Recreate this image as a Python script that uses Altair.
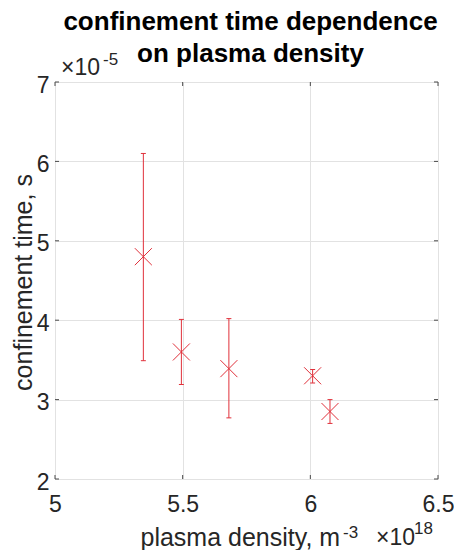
import altair as alt
import pandas as pd

# data (density in units of 1e18 m^-3, time in units of 1e-5 s)
density = [5.346, 5.495, 5.681, 6.009, 6.077]
tau = [4.80, 3.60, 3.39, 3.30, 2.85]
tau_lo = [3.49, 3.19, 2.77, 3.21, 2.70]
tau_hi = [6.10, 4.01, 4.02, 3.38, 3.00]
x_ticks = [5, 5.5, 6, 6.5]
y_ticks = [2, 3, 4, 5, 6, 7]

df = pd.DataFrame({"density": density, "tau": tau, "lo": tau_lo, "hi": tau_hi})

RED = "#e0303a"
FONT = "Liberation Sans"
DARK = "#262626"
BOX = "#4a4a4a"
W, H = 383, 397

xs = alt.Scale(domain=[5, 6.5], nice=False, zero=False)
ys = alt.Scale(domain=[2, 7], nice=False, zero=False)

x_axis = alt.Axis(
    values=x_ticks, format="~g", grid=True, gridColor="#e2e2e2", ticks=False, tickSize=0,
    domain=False, labelFontSize=23, labelPadding=14, labelFont=FONT, labelColor=DARK,
    labelFlush=False, labelOverlap=False,
    title="plasma density, m", titleFont=FONT, titleFontSize=25, titleFontWeight="normal",
    titleColor=DARK, titleX=85, titleY=66, titleAlign="left", titleBaseline="alphabetic",
)
y_axis = alt.Axis(
    values=y_ticks, format="d", grid=True, gridColor="#e2e2e2", ticks=False, tickSize=0,
    domain=False, labelFontSize=23, labelPadding=6, labelOffset=3, labelFont=FONT,
    labelColor=DARK, labelFlush=False, labelOverlap=False,
    title="confinement time, s", titleFont=FONT, titleFontSize=25, titleFontWeight="normal",
    titleColor=DARK, titleX=-24, titleY=200, titleAngle=-90, titleAlign="center",
    titleBaseline="alphabetic",
)

base = alt.Chart(df)
bars = base.mark_rule(color=RED, strokeWidth=1).encode(
    x=alt.X("density:Q", scale=xs, axis=x_axis),
    y=alt.Y("lo:Q", scale=ys, axis=y_axis),
    y2="hi:Q",
)
cap_lo = base.mark_tick(orient="horizontal", color=RED, size=5, thickness=1, opacity=1).encode(
    x="density:Q", y="lo:Q")
cap_hi = base.mark_tick(orient="horizontal", color=RED, size=5, thickness=1, opacity=1).encode(
    x="density:Q", y="hi:Q")
pts = base.mark_point(shape="M-1,-1L1,1M-1,1L1,-1", size=290, color=RED, filled=False,
                      strokeWidth=1, opacity=1).encode(x="density:Q", y="tau:Q")

xt_df = pd.DataFrame({"v": x_ticks})
yt_df = pd.DataFrame({"v": y_ticks})
xt_bot = alt.Chart(xt_df).mark_rule(color=BOX, strokeWidth=1).encode(
    x="v:Q", y=alt.value(H), y2=alt.value(H - 4))
xt_top = alt.Chart(xt_df).mark_rule(color=BOX, strokeWidth=1).encode(
    x="v:Q", y=alt.value(0), y2=alt.value(4))
yt_left = alt.Chart(yt_df).mark_rule(color=BOX, strokeWidth=1).encode(
    y="v:Q", x=alt.value(0), x2=alt.value(4))
yt_right = alt.Chart(yt_df).mark_rule(color=BOX, strokeWidth=1).encode(
    y="v:Q", x=alt.value(W), x2=alt.value(W - 4))


def label(text, x, y, size):
    return alt.Chart(pd.DataFrame({"t": [text]})).mark_text(
        align="left", baseline="alphabetic", font=FONT, fontSize=size, color=DARK
    ).encode(text="t:N", x=alt.value(x), y=alt.value(y))


texts = [
    label("×10", 6, -7, 23),
    label("-5", 48, -17, 17),
    label("-3", 288, 456, 17),
    label("×10", 321, 463, 23),
    label("18", 359, 452, 17),
]

chart = alt.layer(xt_bot, xt_top, yt_left, yt_right, bars, cap_lo, cap_hi, pts, *texts).properties(
    width=W, height=H,
    title=alt.TitleParams(
        text=["confinement time dependence", "on plasma density"],
        font=FONT, fontSize=26, fontWeight="bold", color="black",
        anchor="middle", frame="group", lineHeight=32, baseline="bottom", offset=-42, dx=4,
    ),
    autosize=alt.AutoSizeParams(type="none"),
    padding={"left": 47, "top": 74, "right": 16, "bottom": 71},
).configure_view(stroke=BOX, strokeWidth=1).configure(background="white")

chart.save("out.html", embed_options={"renderer": "svg", "actions": False})
